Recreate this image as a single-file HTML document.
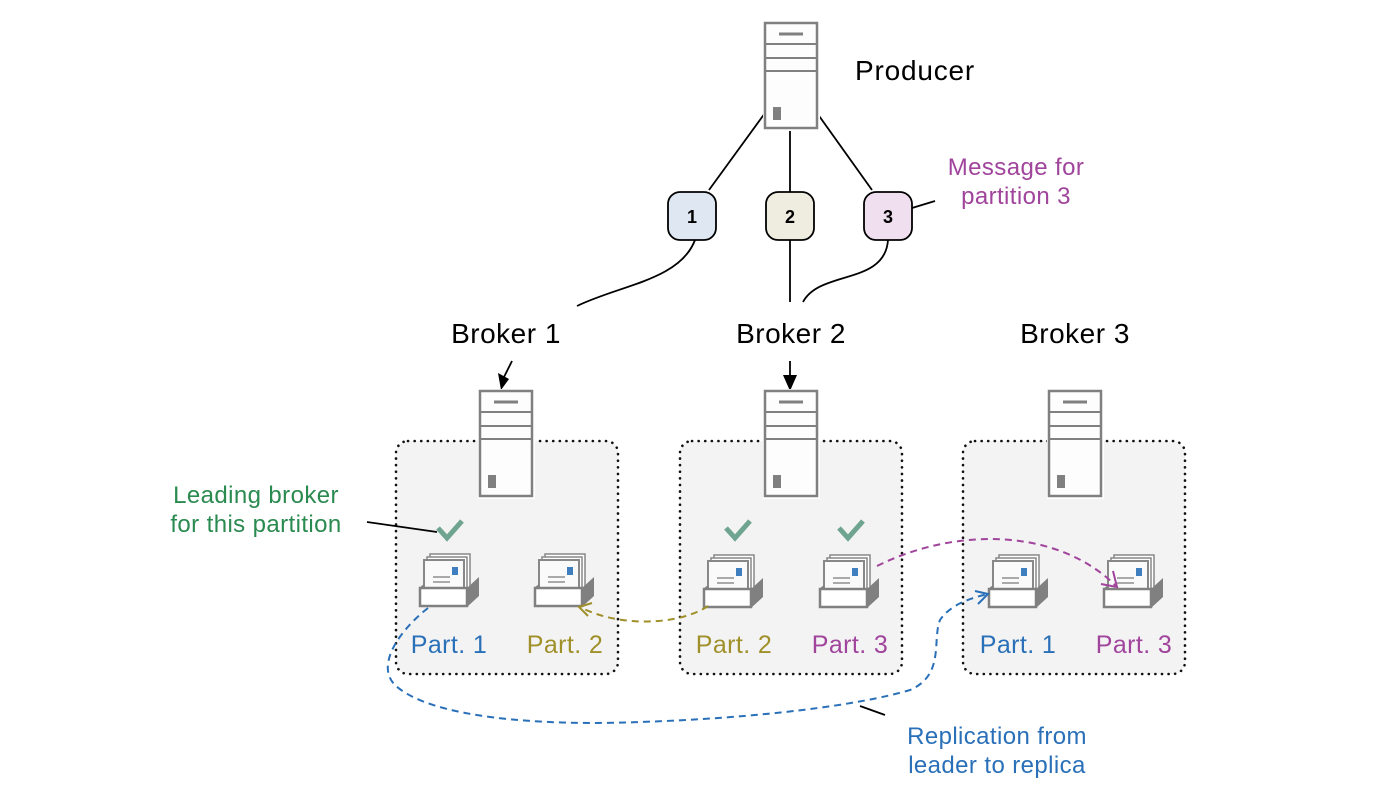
<!DOCTYPE html>
<html><head><meta charset="utf-8"><style>
html,body{margin:0;padding:0;background:#fff;}
svg{display:block;font-family:"Liberation Sans",Helvetica,Arial,sans-serif;}
</style></head><body>
<svg width="1400" height="800" viewBox="0 0 1400 800" xmlns="http://www.w3.org/2000/svg">
<defs>
<g id="srv">
<rect x="-2" y="-2" width="57" height="110" fill="#fff"/>
<rect x="0" y="0" width="52" height="105" fill="#fdfdfd" stroke="#808080" stroke-width="2.5"/>
<line x1="14" y1="11" x2="38" y2="11" stroke="#808080" stroke-width="3"/>
<line x1="0" y1="21" x2="52" y2="21" stroke="#808080" stroke-width="2"/>
<line x1="0" y1="35" x2="52" y2="35" stroke="#808080" stroke-width="2"/>
<line x1="0" y1="48" x2="52" y2="48" stroke="#808080" stroke-width="2"/>
<rect x="8" y="84" width="8" height="13" fill="#808080"/>
</g>
<g id="tray">
<rect x="10" y="-34" width="40" height="36" fill="#fff" stroke="#888" stroke-width="1.5"/>
<rect x="7" y="-31" width="40" height="36" fill="#fff" stroke="#888" stroke-width="1.5"/>
<rect x="4" y="-28" width="40" height="36" fill="#fafafa" stroke="#888" stroke-width="2"/>
<rect x="32" y="-21" width="6" height="8" fill="#3f7fc0"/>
<line x1="13" y1="-11" x2="30" y2="-11" stroke="#aaa" stroke-width="2"/>
<line x1="13" y1="-6" x2="30" y2="-6" stroke="#aaa" stroke-width="2"/>
<polygon points="47,0 59,-11 59,8 47,19" fill="#808080"/>
<polygon points="-1,0 4,-4 4,0" fill="#808080"/>
<rect x="0" y="0" width="47" height="18" fill="#fff" stroke="#808080" stroke-width="2.5"/>
</g>
<path id="chk" d="M-12,-5 L-3,5 L12,-12" fill="none" stroke="#6fa590" stroke-width="5"/>
</defs>

<!-- broker boxes -->
<g fill="#f3f3f3" stroke="#111" stroke-width="2.6" stroke-dasharray="0.1 6.5" stroke-linecap="round">
<rect x="396" y="441" width="222" height="233" rx="12"/>
<rect x="680" y="441" width="222" height="233" rx="12"/>
<rect x="963" y="441" width="222" height="233" rx="12"/>
</g>

<!-- connectors from producer -->
<g stroke="#000" stroke-width="1.8" fill="none">
<line x1="765" y1="113" x2="709" y2="190"/>
<line x1="790" y1="128" x2="790" y2="192"/>
<line x1="817" y1="113" x2="872" y2="190"/>
<path d="M695,240 C680,280 620,285 577,306"/>
<line x1="790" y1="240" x2="790" y2="302"/>
<path d="M888,240 C885,285 820,270 803,302"/>
<line x1="912" y1="208" x2="935" y2="201"/>
<line x1="512" y1="361" x2="504" y2="377"/>
<line x1="790" y1="361" x2="790" y2="377"/>
<line x1="367" y1="522" x2="437" y2="532"/>
<line x1="860" y1="706" x2="885" y2="715"/>
</g>
<polygon points="498,373 509,379 501,390" fill="#000"/>
<polygon points="783,375 797,375 790,391" fill="#000"/>

<!-- producer server -->
<use href="#srv" x="765" y="23"/>
<text x="855" y="80" font-size="28" letter-spacing="0.8" fill="#000">Producer</text>

<!-- nodes -->
<rect x="668" y="192" width="48" height="48" rx="12" fill="#dfe8f2" stroke="#000" stroke-width="1.8"/>
<text x="692" y="223" font-size="18" font-weight="bold" text-anchor="middle">1</text>
<rect x="766" y="192" width="48" height="48" rx="12" fill="#efede0" stroke="#000" stroke-width="1.8"/>
<text x="790" y="223" font-size="18" font-weight="bold" text-anchor="middle">2</text>
<rect x="864" y="192" width="48" height="48" rx="12" fill="#f0e0ef" stroke="#000" stroke-width="1.8"/>
<text x="888" y="223" font-size="18" font-weight="bold" text-anchor="middle">3</text>

<g font-size="24" letter-spacing="0.4" text-anchor="middle">
<text x="1016" y="175" fill="#a0449c">Message for</text>
<text x="1016" y="204" fill="#a0449c">partition 3</text>
<text x="256" y="503" fill="#2a8a50">Leading broker</text>
<text x="256" y="532" fill="#2a8a50">for this partition</text>
<text x="997" y="744" fill="#2a70b8">Replication from</text>
<text x="997" y="773" fill="#2a70b8">leader to replica</text>
</g>

<!-- broker labels -->
<g font-size="28" letter-spacing="0.5" text-anchor="middle">
<text x="506" y="343">Broker 1</text>
<text x="791" y="343">Broker 2</text>
<text x="1075" y="343">Broker 3</text>
</g>

<use href="#srv" x="480" y="391"/>
<use href="#srv" x="765" y="391"/>
<use href="#srv" x="1049" y="391"/>

<!-- trays -->
<use href="#tray" x="420" y="588"/>
<use href="#tray" x="535" y="588"/>
<use href="#tray" x="704" y="589"/>
<use href="#tray" x="820" y="589"/>
<use href="#tray" x="989" y="589"/>
<use href="#tray" x="1104" y="589"/>

<use href="#chk" x="450" y="533"/>
<use href="#chk" x="738" y="533"/>
<use href="#chk" x="851" y="533"/>

<!-- part labels -->
<g font-size="25" letter-spacing="0.4" text-anchor="middle">
<text x="449" y="653" fill="#2a70b8">Part. 1</text>
<text x="565" y="653" fill="#a0902a">Part. 2</text>
<text x="734" y="653" fill="#a0902a">Part. 2</text>
<text x="850" y="653" fill="#a0449c">Part. 3</text>
<text x="1018" y="653" fill="#2a70b8">Part. 1</text>
<text x="1134" y="653" fill="#a0449c">Part. 3</text>
</g>

<!-- dashed curves -->
<path d="M708,606 C680,625 620,628 580,607" fill="none" stroke="#a0902a" stroke-width="2" stroke-dasharray="7 5"/>
<polyline points="592,603 579,607 588,616" fill="none" stroke="#a0902a" stroke-width="2"/>
<path d="M877,566 C960,525 1060,530 1116,586" fill="none" stroke="#a0449c" stroke-width="2" stroke-dasharray="7 5"/>
<polyline points="1101,584 1117,587 1113,571" fill="none" stroke="#a0449c" stroke-width="2"/>
<path d="M428,608 C400,630 375,665 395,685 C430,718 540,726 640,722 C760,718 860,705 910,690 C945,675 932,640 940,620 C950,605 970,598 988,594" fill="none" stroke="#2a70b8" stroke-width="2" stroke-dasharray="7 5"/>
<polyline points="975,591 988,594 978,604" fill="none" stroke="#2a70b8" stroke-width="2"/>
</svg>
</body></html>
